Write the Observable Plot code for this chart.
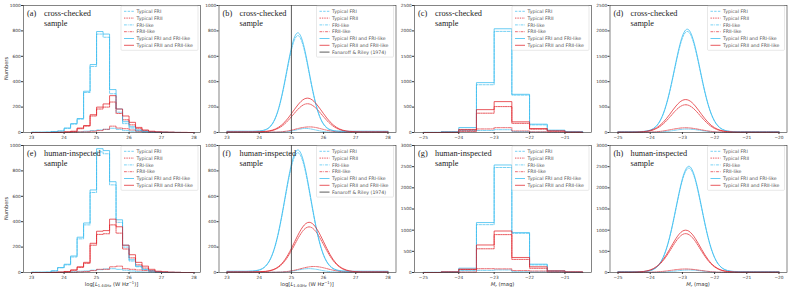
<!DOCTYPE html>
<html><head><meta charset="utf-8">
<script src="https://cdn.jsdelivr.net/npm/d3@7"></script>
<script src="https://cdn.jsdelivr.net/npm/@observablehq/plot@0.6"></script>
<style>
body{margin:0;background:#fff;}
#chart{position:relative;width:789px;height:294px;overflow:hidden;background:#fff;}
#chart svg{position:absolute;}
</style></head><body><div id="chart"></div>
<script>
// ---------- bins, grids, ticks ----------
const logEdges = [23.0,23.2,23.4,23.6,23.8,24.0,24.2,24.4,24.6,24.8,25.0,25.2,25.4,25.6,25.8,26.0,26.2,26.4,26.6,26.8,27.0,27.2,27.4,27.6,27.8,28.0];
const magEdges = [-25,-24.5,-24,-23.5,-23,-22.5,-22,-21.5,-21,-20.5];
const logGrid = [23.0,23.2,23.4,23.6,23.8,24.0,24.2,24.4,24.6,24.8,25.0,25.2,25.4,25.6,25.8,26.0,26.2,26.4,26.6,26.8,27.0,27.2,27.4,27.6,27.8,28.0];
const magGrid = [-25,-24.8,-24.6,-24.4,-24.2,-24,-23.8,-23.6,-23.4,-23.2,-23,-22.8,-22.6,-22.4,-22.2,-22,-21.8,-21.6,-21.4,-21.2,-21,-20.8,-20.6,-20.4,-20.2,-20];
const logTicks = [23,24,25,26,27,28];
const magTicksHist = [-25,-24,-23,-22,-21];
const magTicksCurve = [-25,-24,-23,-22,-21,-20];
const yTicks1000 = [0,200,400,600,800,1000];
const yTicks2500 = [0,500,1000,1500,2000,2500];
const yTicks3000 = [0,500,1000,1500,2000,2500,3000];
const frLine = [25];

// ---------- (a) cross-checked, log L histogram ----------
const aFRI      = [2,2,3,7,11,33,66,105,315,520,775,750,305,160,70,35,15,8,4,2,1,1,0,0,0];
const aFRII     = [0,0,0,0,1,4,8,30,50,130,185,200,240,150,100,60,30,15,7,3,2,1,0,0,0];
const aFRIlike  = [0,0,0,1,1,2,4,5,10,15,20,25,33,25,15,10,5,2,1,1,1,0,0,0,0];
const aFRIIlike = [0,0,0,0,0,1,2,5,5,10,15,25,50,35,30,20,10,5,3,2,1,1,0,0,0];
const aFRIall   = [2,2,3,8,12,35,70,110,325,535,795,775,338,185,85,45,20,10,5,3,2,1,1,0,0];
const aFRIIall  = [0,0,0,1,2,5,10,35,55,140,200,225,290,185,130,80,40,20,10,5,3,2,1,1,0];

// ---------- (b) cross-checked, log L fitted curves ----------
const bFRI      = [8,8,8,8,8,10,21,63,182,401,649,763,649,401,182,63,21,10,8,8,8,8,8,8,8,8];
const bFRII     = [4,4,4,4,4,5,7,15,34,70,124,182,221,221,182,124,70,34,15,7,5,4,4,4,4,4];
const bFRIlike  = [2,2,2,2,2,2,2,2,3,5,12,23,32,28,17,8,3,2,2,2,2,2,2,2,2,2];
const bFRIIlike = [2,2,2,2,2,2,2,3,4,9,18,31,41,44,37,24,13,6,3,2,2,2,2,2,2,2];
const bFRIall   = [10,10,10,10,10,12,23,67,188,413,668,785,668,413,188,67,23,12,10,10,10,10,10,10,10,10];
const bFRIIall  = [5,5,5,5,5,6,9,18,41,84,148,217,264,264,217,148,84,41,18,9,6,5,5,5,5,5];

// ---------- (c) cross-checked, M_r histogram ----------
const cFRI      = [2,10,60,940,1990,735,150,40,15];
const cFRII     = [0,3,40,380,510,180,65,25,8];
const cFRIlike  = [0,3,30,40,55,20,10,5,3];
const cFRIIlike = [0,2,20,70,95,30,12,8,2];
const cFRIall   = [3,15,98,982,2042,752,164,46,20];
const cFRIIall  = [0,5,60,450,608,210,78,33,10];

// ---------- (d) cross-checked, M_r fitted curves ----------
const dFRI      = [12,12,12,13,19,44,130,353,782,1362,1857,1976,1642,1063,541,219,75,27,14,12,12,12,12,12,12,12];
const dFRII     = [6,6,6,8,14,33,79,167,297,439,533,533,439,297,167,79,33,14,8,6,6,6,6,6,6,6];
const dFRIlike  = [3,3,3,3,3,4,7,14,28,47,64,67,56,38,20,10,5,3,3,3,3,3,3,3,3,3];
const dFRIIlike = [3,3,3,3,4,8,15,30,52,75,91,91,75,52,30,15,8,4,3,3,3,3,3,3,3,3];
const dFRIall   = [15,15,15,16,22,47,135,363,801,1393,1898,2019,1677,1088,554,226,80,30,17,15,15,15,15,15,15,15];
const dFRIIall  = [8,8,8,10,18,40,94,199,353,521,633,633,521,353,199,94,40,18,10,8,8,8,8,8,8,8];

// ---------- (e) human-inspected, log L histogram ----------
const eFRI      = [2,2,3,12,37,60,122,265,375,630,950,935,690,395,200,90,45,22,10,4,2,1,0,0,0];
const eFRII     = [0,0,0,1,2,7,18,40,72,215,300,305,375,310,185,115,60,35,15,6,3,1,0,0,0];
const eFRIlike  = [0,0,0,1,2,4,6,10,12,18,22,28,30,25,18,12,6,3,2,1,0,0,0,0,0];
const eFRIIlike = [0,0,0,0,1,1,2,5,8,15,25,25,45,50,30,25,20,15,10,4,2,1,1,0,0];
const eFRIall   = [2,2,3,13,39,65,130,278,390,650,975,960,715,415,215,100,50,25,12,5,2,1,1,0,0];
const eFRIIall  = [0,0,0,1,3,8,20,45,80,230,325,330,420,360,215,140,80,50,25,10,5,2,1,0,0];

// ---------- (f) human-inspected, log L fitted curves ----------
const fFRI      = [8,8,8,8,10,18,49,134,312,576,833,943,833,576,312,134,49,18,10,8,8,8,8,8,8,8];
const fFRII     = [4,4,4,4,4,5,8,18,42,92,172,266,340,357,308,219,129,64,27,11,6,4,4,4,4,4];
const fFRIlike  = [2,2,2,2,2,2,2,2,3,5,10,19,28,30,24,14,7,3,2,2,2,2,2,2,2,2];
const fFRIIlike = [2,2,2,2,2,2,2,2,3,6,13,24,37,46,46,37,24,13,6,3,2,2,2,2,2,2];
const fFRIall   = [10,10,10,10,12,21,52,139,320,589,853,965,853,589,320,139,52,21,12,10,10,10,10,10,10,10];
const fFRIIall  = [5,5,5,5,5,6,9,20,47,102,190,293,374,393,339,242,142,70,31,13,7,5,5,5,5,5];

// ---------- (g) human-inspected, M_r histogram ----------
const gFRI      = [2,10,60,1130,2480,925,180,32,8];
const gFRII     = [0,10,70,560,895,310,100,30,10];
const gFRIlike  = [0,3,40,50,60,18,15,8,4];
const gFRIIlike = [0,5,10,90,85,45,35,10,5];
const gFRIall   = [3,15,102,1180,2540,943,197,40,12];
const gFRIIall  = [0,15,80,650,980,355,135,40,15];

// ---------- (h) human-inspected, M_r fitted curves ----------
const hFRI      = [16,16,16,17,21,43,124,347,811,1502,2178,2466,2178,1502,811,347,124,43,21,17,16,16,16,16,16,16];
const hFRII     = [8,8,8,12,22,54,131,279,498,737,896,896,737,498,279,131,54,22,12,8,8,8,8,8,8,8];
const hFRIlike  = [3,3,3,3,3,4,5,10,21,36,52,58,52,36,21,10,5,4,3,3,3,3,3,3,3,3];
const hFRIIlike = [3,3,3,3,4,7,14,27,46,67,81,81,67,46,27,14,7,4,3,3,3,3,3,3,3,3];
const hFRIall   = [20,20,20,21,25,48,129,357,828,1530,2217,2510,2217,1530,828,357,129,48,25,21,20,20,20,20,20,20];
const hFRIIall  = [10,10,10,14,25,60,144,305,544,803,976,976,803,544,305,144,60,25,14,10,10,10,10,10,10,10];

// ---------- styles ----------
const CYAN = "#2cb8ee", RED = "#e01b22";
const seriesStyle = {
  FRI:      {label: "Typical FRI", color: CYAN, dash: "2.4,1.3", w: 0.8},
  FRII:     {label: "Typical FRII", color: RED, dash: "1.4,1", w: 0.9},
  FRIlike:  {label: "FRI-like", color: CYAN, dash: "2.8,1,0.8,1", w: 0.8},
  FRIIlike: {label: "FRII-like", color: RED, dash: "2.8,1,0.8,1", w: 0.8},
  FRIall:   {label: "Typical FRI and FRI-like", color: CYAN, dash: null, w: 0.9},
  FRIIall:  {label: "Typical FRII and FRII-like", color: RED, dash: null, w: 0.9},
  FR74:     {label: "Fanaroff & Riley (1974)", color: "#333", dash: null, w: 0.8}
};
const order = ["FRI","FRII","FRIlike","FRIIlike","FRIall","FRIIall"];

const cols = [
  {left: 0, width: 201, mL: 23, mR: 1},
  {left: 201, width: 196, mL: 17.5, mR: 1.5},
  {left: 397, width: 195, mL: 17, mR: 1},
  {left: 592, width: 197, mL: 17.5, mR: 2.5}
];
const rows = [
  {top: 0, height: 140, mT: 5, mB: 8},
  {top: 140, height: 154, mT: 5, mB: 22}
];

const panels = [
  {tag:"(a)", txt:"cross-checked", col:0, row:0, kind:"hist", edges:logEdges, xd:[22.75,28.2], xt:logTicks, yd:[0,1000], yt:yTicks1000,
   data:{FRI:aFRI,FRII:aFRII,FRIlike:aFRIlike,FRIIlike:aFRIIlike,FRIall:aFRIall,FRIIall:aFRIIall}, ylab:true},
  {tag:"(b)", txt:"cross-checked", col:1, row:0, kind:"curve", grid:logGrid, xd:[22.75,28.25], xt:logTicks, yd:[0,1000], yt:yTicks1000,
   data:{FRI:bFRI,FRII:bFRII,FRIlike:bFRIlike,FRIIlike:bFRIIlike,FRIall:bFRIall,FRIIall:bFRIIall}, fr:true},
  {tag:"(c)", txt:"cross-checked", col:2, row:0, kind:"hist", edges:magEdges, xd:[-25.25,-20.25], xt:magTicksHist, yd:[0,2500], yt:yTicks2500,
   data:{FRI:cFRI,FRII:cFRII,FRIlike:cFRIlike,FRIIlike:cFRIIlike,FRIall:cFRIall,FRIIall:cFRIIall}},
  {tag:"(d)", txt:"cross-checked", col:3, row:0, kind:"curve", grid:magGrid, xd:[-25.25,-19.75], xt:magTicksCurve, yd:[0,2500], yt:yTicks2500,
   data:{FRI:dFRI,FRII:dFRII,FRIlike:dFRIlike,FRIIlike:dFRIIlike,FRIall:dFRIall,FRIIall:dFRIIall}},
  {tag:"(e)", txt:"human-inspected", col:0, row:1, kind:"hist", edges:logEdges, xd:[22.75,28.2], xt:logTicks, yd:[0,1000], yt:yTicks1000,
   data:{FRI:eFRI,FRII:eFRII,FRIlike:eFRIlike,FRIIlike:eFRIIlike,FRIall:eFRIall,FRIIall:eFRIIall}, ylab:true, xlab:"log"},
  {tag:"(f)", txt:"human-inspected", col:1, row:1, kind:"curve", grid:logGrid, xd:[22.75,28.25], xt:logTicks, yd:[0,1000], yt:yTicks1000,
   data:{FRI:fFRI,FRII:fFRII,FRIlike:fFRIlike,FRIIlike:fFRIIlike,FRIall:fFRIall,FRIIall:fFRIIall}, fr:true, xlab:"log"},
  {tag:"(g)", txt:"human-inspected", col:2, row:1, kind:"hist", edges:magEdges, xd:[-25.25,-20.25], xt:magTicksHist, yd:[0,3000], yt:yTicks3000,
   data:{FRI:gFRI,FRII:gFRII,FRIlike:gFRIlike,FRIIlike:gFRIIlike,FRIall:gFRIall,FRIIall:gFRIIall}, xlab:"mag"},
  {tag:"(h)", txt:"human-inspected", col:3, row:1, kind:"curve", grid:magGrid, xd:[-25.25,-19.75], xt:magTicksCurve, yd:[0,3000], yt:yTicks3000,
   data:{FRI:hFRI,FRII:hFRII,FRIlike:hFRIlike,FRIIlike:hFRIIlike,FRIall:hFRIall,FRIIall:hFRIIall}, xlab:"mag"}
];

function stepPoints(edges, counts) {
  const pts = [{x: edges[0], y: 0}];
  counts.forEach((c, i) => pts.push({x: edges[i], y: c}));
  pts.push({x: edges[counts.length], y: 0});
  return pts;
}
function curvePoints(grid, vals) { return grid.map((x, i) => ({x, y: vals[i]})); }
const fmt = d => d < 0 ? "\u2212" + Math.abs(d) : String(d);

const chart = document.getElementById("chart");
const SANS = "'DejaVu Sans', sans-serif";
const SERIF = "'Liberation Serif', 'Times New Roman', serif";

for (const p of panels) {
  const col = cols[p.col], row = rows[p.row];
  const marks = [];
  for (const key of order) {
    const st = seriesStyle[key];
    const pts = p.kind === "hist" ? stepPoints(p.edges, p.data[key]) : curvePoints(p.grid, p.data[key]);
    marks.push(Plot.line(pts, {x: "x", y: "y", curve: p.kind === "hist" ? "step-after" : "natural",
      stroke: st.color, strokeOpacity: 0.8, strokeWidth: st.w, strokeDasharray: st.dash || undefined}));
  }
  if (p.fr) marks.push(Plot.ruleX(frLine, {stroke: "#333", strokeWidth: 0.8}));
  marks.push(Plot.frame({stroke: "#333", strokeWidth: 0.6}));
  const svg = Plot.plot({
    width: col.width, height: row.height,
    marginLeft: col.mL, marginRight: col.mR, marginTop: row.mT, marginBottom: row.mB,
    style: {fontSize: "4.3px", fontFamily: SANS, color: "#333", background: "white"},
    x: {domain: p.xd, ticks: p.xt, tickSize: 2, tickPadding: 1, tickFormat: fmt, label: null},
    y: {domain: p.yd, ticks: p.yt, tickSize: 2, tickPadding: 0.7, tickFormat: fmt, label: null},
    marks
  });
  svg.style.left = col.left + "px";
  svg.style.top = row.top + "px";
  chart.appendChild(svg);

  const s = d3.select(svg);
  const fw = col.width - col.mL - col.mR, fh = row.height - row.mT - row.mB;
  const fx = col.mL, fy = row.mT;

  // panel label
  const lab = s.append("g").attr("text-anchor", "start").style("font-family", SERIF).style("font-size", "8.3px").style("fill", "#222");
  lab.append("text").attr("x", fx + 4).attr("y", fy + 11).style("font-family", SERIF).text(p.tag);
  lab.append("text").attr("x", fx + 21).attr("y", fy + 11).style("font-family", SERIF).text(p.txt);
  lab.append("text").attr("x", fx + 21).attr("y", fy + 20.5).style("font-family", SERIF).text("sample");

  // legend
  const keys = p.fr ? order.concat(["FR74"]) : order;
  const lw = 77, rowH = 6.8;
  const lx = fx + fw - 2 - lw, ly = fy + 1;
  const lg = s.append("g").attr("text-anchor", "start");
  lg.append("rect").attr("x", lx).attr("y", ly).attr("width", lw).attr("height", keys.length * rowH + 3.5)
    .attr("rx", 1).attr("fill", "white").attr("fill-opacity", 0.85).attr("stroke", "#d0d0d0").attr("stroke-width", 0.5);
  keys.forEach((k, i) => {
    const st = seriesStyle[k];
    const yy = ly + 5.3 + i * rowH;
    lg.append("line").attr("x1", lx + 3).attr("x2", lx + 13).attr("y1", yy).attr("y2", yy)
      .attr("stroke", st.color).attr("stroke-opacity", k === "FR74" ? 1 : 0.8).attr("stroke-width", st.w)
      .attr("stroke-dasharray", st.dash);
    lg.append("text").attr("x", lx + 15.5).attr("y", yy).attr("dy", "0.35em")
      .style("font-size", "4.7px").style("font-family", SANS).style("fill", "#555").text(st.label);
  });

  // y label
  if (p.ylab) {
    s.append("text").attr("transform", `translate(6,${fy + fh / 2}) rotate(-90)`).attr("text-anchor", "middle")
      .attr("dy", "0.35em").style("font-size", "5.1px").style("font-family", SANS).style("fill", "#333").text("Numbers");
  }
  // x label
  if (p.xlab) {
    const t = s.append("text").attr("x", fx + fw / 2).attr("y", fy + fh + 14).attr("text-anchor", "middle")
      .style("font-size", "5.3px").style("font-family", SANS).style("fill", "#333");
    if (p.xlab === "log") {
      t.append("tspan").text("log[");
      t.append("tspan").style("font-style", "italic").text("L");
      t.append("tspan").style("font-size", "3.7px").attr("dy", 1.3).text("1.4GHz");
      t.append("tspan").attr("dy", -1.3).text(" (W Hz");
      t.append("tspan").style("font-size", "3.7px").attr("dy", -2.2).text("\u22121");
      t.append("tspan").attr("dy", 2.2).text(")]");
    } else {
      t.append("tspan").style("font-style", "italic").text("M");
      t.append("tspan").style("font-size", "3.7px").style("font-style", "italic").attr("dy", 1.3).text("r");
      t.append("tspan").attr("dy", -1.3).text(" (mag)");
    }
  }
}
</script></body></html>
